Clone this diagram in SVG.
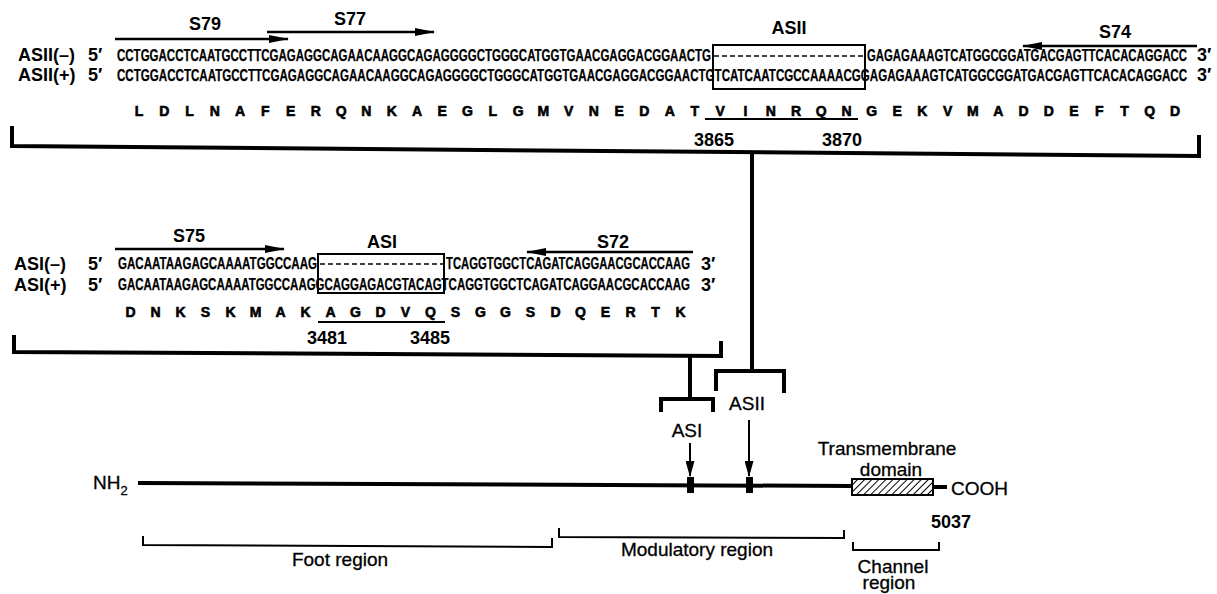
<svg xmlns="http://www.w3.org/2000/svg" width="1217" height="594" viewBox="0 0 1217 594">
<style>
text{fill:#000}
.seq{font-family:"Liberation Sans",Arial,sans-serif;font-weight:bold;font-size:16px;stroke:#000;stroke-width:0.25}
.aa{font-family:"Liberation Sans",Arial,sans-serif;font-weight:bold;font-size:14px;text-anchor:middle;stroke:#000;stroke-width:0.6}
.lb{font-family:"Liberation Sans",Arial,sans-serif;font-weight:bold;font-size:18px}
.mid{text-anchor:middle}
.rg{font-family:"Liberation Sans",Arial,sans-serif;font-size:19px;text-anchor:middle;stroke:#000;stroke-width:0.3}
.box{fill:none;stroke:#000;stroke-width:2}
.dash{stroke:#000;stroke-width:1.3;stroke-dasharray:5 3}
.ul{stroke:#000;stroke-width:2}
.thick{fill:none;stroke:#000;stroke-width:4;stroke-linejoin:miter;stroke-linecap:square}
.thin{fill:none;stroke:#000;stroke-width:2}
.prim{stroke:#000;stroke-width:2.5;marker-end:url(#ah)}
.down{stroke:#000;stroke-width:2;marker-end:url(#ah2)}
</style>
<defs>
<marker id="ah" viewBox="0 0 20 8" refX="19" refY="4" markerWidth="20" markerHeight="8" markerUnits="userSpaceOnUse" orient="auto"><path d="M0,0 L20,4 L0,8 z" fill="#000"/></marker>
<marker id="ah2" viewBox="0 0 16 9" refX="15" refY="4.5" markerWidth="16" markerHeight="9" markerUnits="userSpaceOnUse" orient="auto"><path d="M0,0 L16,4.5 L0,9 z" fill="#000"/></marker>
<pattern id="hatch" patternUnits="userSpaceOnUse" width="5" height="5" patternTransform="rotate(45)"><line x1="0" y1="0" x2="0" y2="5" stroke="#000" stroke-width="2"/></pattern>
</defs>
<rect width="1217" height="594" fill="#fff"/>

<g id="asii-panel">
<text class="lb mid" x="205" y="30">S79</text>
<text class="lb mid" x="350" y="25">S77</text>
<text class="lb mid" x="789" y="34">ASII</text>
<text class="lb mid" x="1115" y="38">S74</text>
<line class="prim" x1="115" y1="39" x2="288" y2="39"/>
<line class="prim" x1="267" y1="32" x2="434" y2="32"/>
<line class="prim" x1="1197" y1="46" x2="1023" y2="46"/>
<text class="lb" x="18" y="61">ASII(–)</text>
<text class="lb" x="18" y="81">ASII(+)</text>
<text class="lb" x="88" y="61">5′</text>
<text class="lb" x="88" y="81">5′</text>
<text class="seq" x="117" y="61" textLength="594" lengthAdjust="spacingAndGlyphs">CCTGGACCTCAATGCCTTCGAGAGGCAGAACAAGGCAGAGGGGCTGGGCATGGTGAACGAGGACGGAACTG</text>
<line class="dash" x1="714" y1="56" x2="864" y2="56"/>
<text class="seq" x="867" y="61" textLength="320" lengthAdjust="spacingAndGlyphs">GAGAGAAAGTCATGGCGGATGACGAGTTCACACAGGACC</text>
<text class="seq" x="117" y="81" textLength="1070" lengthAdjust="spacingAndGlyphs">CCTGGACCTCAATGCCTTCGAGAGGCAGAACAAGGCAGAGGGGCTGGGCATGGTGAACGAGGACGGAACTGTCATCAATCGCCAAAACGGAGAGAAAGTCATGGCGGATGACGAGTTCACACAGGACC</text>
<text class="lb" x="1197" y="61">3′</text>
<text class="lb" x="1197" y="81">3′</text>
<rect class="box" x="713" y="45" width="152" height="44"/>
<text class="aa" y="116" x="139.0 164.3 189.5 214.8 240.1 265.4 290.6 315.9 341.2 366.4 391.7 417.0 442.2 467.5 492.8 518.1 543.3 568.6 593.9 619.1 644.4 669.7 694.9 720.2 745.5 770.8 796.0 821.3 846.6 871.8 897.1 922.4 947.6 972.9 998.2 1023.5 1048.7 1074.0 1099.3 1124.5 1149.8 1175.1">LDLNAFERQNKAEGLGMVNEDATVINRQNGEKVMADDEFTQD</text>
<line class="ul" x1="705" y1="119" x2="858" y2="119"/>
<text class="lb mid" x="714" y="146">3865</text>
<text class="lb mid" x="842" y="146">3870</text>
</g>

<g id="asi-panel">
<text class="lb mid" x="189" y="242">S75</text>
<text class="lb mid" x="382" y="248">ASI</text>
<text class="lb mid" x="613" y="248">S72</text>
<line class="prim" x1="115" y1="249" x2="284" y2="249"/>
<line class="prim" x1="693" y1="252" x2="527" y2="252"/>
<text class="lb" x="14" y="270">ASI(–)</text>
<text class="lb" x="14" y="291">ASI(+)</text>
<text class="lb" x="88" y="270">5′</text>
<text class="lb" x="88" y="291">5′</text>
<text class="seq" x="118" y="269" textLength="199" lengthAdjust="spacingAndGlyphs">GACAATAAGAGCAAAATGGCCAAG</text>
<line class="dash" x1="320" y1="264" x2="443" y2="264"/>
<text class="seq" x="446" y="269" textLength="244" lengthAdjust="spacingAndGlyphs">TCAGGTGGCTCAGATCAGGAACGCACCAAG</text>
<text class="seq" x="118" y="290" textLength="572" lengthAdjust="spacingAndGlyphs">GACAATAAGAGCAAAATGGCCAAGGCAGGAGACGTACAGTCAGGTGGCTCAGATCAGGAACGCACCAAG</text>
<text class="lb" x="701" y="270">3′</text>
<text class="lb" x="701" y="291">3′</text>
<rect class="box" x="318" y="254" width="126" height="39"/>
<text class="aa" y="317" x="130.5 155.5 180.5 205.5 230.5 255.5 280.5 305.5 330.5 355.5 380.5 405.5 430.5 455.5 480.5 505.5 530.5 555.5 580.5 605.5 630.5 655.5 680.5">DNKSKMAKAGDVQSGGSDQERTK</text>
<line class="ul" x1="318" y1="322" x2="445" y2="322"/>
<text class="lb mid" x="327" y="344">3481</text>
<text class="lb mid" x="430" y="344">3485</text>
</g>

<g id="connectors">
<path class="thick" d="M12,128 V146 L1199,156 V137"/>
<path class="thick" d="M752,156 V371"/>
<path class="thick" d="M716,389 V371 H784 V391"/>
<path class="thick" d="M14,337 V352 L721,356 V343"/>
<path class="thick" d="M690,356 V399"/>
<path class="thick" d="M661,410 V399 H713 V410"/>
<line class="down" x1="690" y1="443" x2="690" y2="476"/>
<line class="down" x1="749" y1="420" x2="749" y2="476"/>
</g>

<g id="site-labels">
<text class="rg" x="747" y="410">ASII</text>
<text class="rg" x="687" y="437">ASI</text>
</g>

<g id="protein">
<text class="rg" x="93" y="489" style="text-anchor:start">NH<tspan font-size="13" dy="6">2</tspan></text>
<path d="M138,483 L852,486" stroke="#000" stroke-width="4" fill="none"/>
<rect x="687" y="477" width="7" height="16" fill="#000"/>
<rect x="746" y="477" width="7" height="16" fill="#000"/>
<rect x="852" y="479" width="81" height="16" fill="url(#hatch)" stroke="#000" stroke-width="2"/>
<line x1="933" y1="487" x2="947" y2="487" stroke="#000" stroke-width="4"/>
<text class="rg" x="951" y="495" style="text-anchor:start">COOH</text>
<text class="rg" x="887" y="455">Transmembrane</text>
<text class="rg" x="891" y="476">domain</text>
<text class="lb mid" x="951" y="528">5037</text>
</g>

<g id="regions">
<path class="thin" d="M143,536 V545 L552,547 V538"/>
<text class="rg" x="340" y="566">Foot region</text>
<path class="thin" d="M559,528 V537 L844,538 V530"/>
<text class="rg" x="697" y="556">Modulatory region</text>
<path class="thin" d="M853,542 V550 H939 V542"/>
<text class="rg" x="893" y="573">Channel</text>
<text class="rg" x="889" y="589">region</text>
</g>
</svg>
